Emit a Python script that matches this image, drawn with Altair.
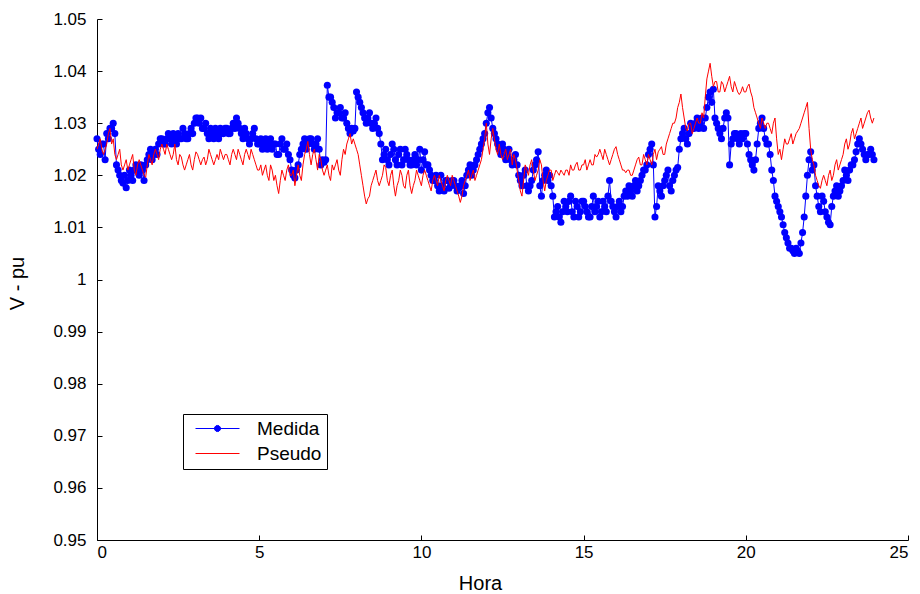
import altair as alt
import pandas as pd

# ---------------- data ----------------
# samples every 0.1 h (on the tenth) and in between (at +0.05 h)
HORA = [round(i * 0.1, 2) for i in range(240)]
HORA_MID = [round(i * 0.1 + 0.05, 2) for i in range(240)]

MEDIDA = [
    1.027, 1.024, 1.026, 1.028, 1.029, 1.030, 1.022, 1.020, 1.0185, 1.0176,
    1.021, 1.019, 1.022, 1.020, 1.021, 1.022, 1.024, 1.023, 1.025, 1.026,
    1.027, 1.026, 1.028, 1.026, 1.027, 1.028, 1.027, 1.028, 1.027, 1.029,
    1.030, 1.031, 1.031, 1.029, 1.028, 1.029, 1.027, 1.028, 1.029, 1.028,
    1.029, 1.028, 1.030, 1.031, 1.029, 1.027, 1.028, 1.026, 1.028, 1.027,
    1.026, 1.025, 1.027, 1.026, 1.025, 1.026, 1.024, 1.027, 1.025, 1.024,
    1.021, 1.0195, 1.022, 1.025, 1.027, 1.026, 1.027, 1.025, 1.027, 1.022,
    1.0225, 1.0373, 1.035, 1.033, 1.032, 1.033, 1.031, 1.030, 1.028, 1.0285,
    1.036, 1.034, 1.032, 1.030, 1.032, 1.029, 1.031, 1.028, 1.023, 1.025,
    1.022, 1.026, 1.023, 1.024, 1.022, 1.025, 1.023, 1.022, 1.024, 1.023,
    1.021, 1.0245, 1.022, 1.020, 1.019, 1.018, 1.020, 1.017, 1.019, 1.018,
    1.019, 1.017, 1.018, 1.0165, 1.020, 1.022, 1.021, 1.023, 1.025, 1.027,
    1.030, 1.033, 1.029, 1.027, 1.025, 1.026, 1.023, 1.025, 1.022, 1.024,
    1.020, 1.018, 1.021, 1.017, 1.019, 1.022, 1.0245, 1.016, 1.020, 1.019,
    1.018, 1.012, 1.014, 1.011, 1.015, 1.013, 1.016, 1.012, 1.014, 1.013,
    1.015, 1.013, 1.012, 1.016, 1.014, 1.012, 1.015, 1.013, 1.019, 1.014,
    1.012, 1.015, 1.014, 1.017, 1.018, 1.016, 1.019, 1.018, 1.020, 1.021,
    1.024, 1.026, 1.012, 1.018, 1.016, 1.019, 1.021, 1.017, 1.020, 1.0215,
    1.027, 1.029, 1.026, 1.030, 1.029, 1.031, 1.030, 1.029, 1.033, 1.036,
    1.0365, 1.030, 1.028, 1.029, 1.032, 1.022, 1.027, 1.028, 1.026, 1.027,
    1.028, 1.024, 1.022, 1.023, 1.029, 1.031, 1.027, 1.026, 1.021, 1.016,
    1.014, 1.012, 1.009, 1.007, 1.006, 1.005, 1.0055, 1.007, 1.012, 1.020,
    1.0245, 1.022, 1.016, 1.013, 1.015, 1.012, 1.0105, 1.016, 1.018, 1.017,
    1.019, 1.020, 1.021, 1.022, 1.0245, 1.027, 1.025, 1.023, 1.024, 1.024,
]

MEDIDA_MID = [
    1.025, 1.026, 1.023, 1.027, 1.029, 1.028, 1.021, 1.019, 1.020, 1.019,
    1.020, 1.021, 1.021, 1.022, 1.019, 1.023, 1.025, 1.024, 1.024, 1.027,
    1.026, 1.027, 1.027, 1.028, 1.026, 1.027, 1.029, 1.027, 1.028, 1.028,
    1.031, 1.030, 1.029, 1.030, 1.027, 1.028, 1.029, 1.027, 1.028, 1.029,
    1.028, 1.029, 1.029, 1.030, 1.028, 1.029, 1.027, 1.027, 1.029, 1.026,
    1.027, 1.026, 1.025, 1.027, 1.026, 1.024, 1.026, 1.025, 1.026, 1.023,
    1.020, 1.021, 1.024, 1.026, 1.025, 1.027, 1.026, 1.026, 1.025, 1.023,
    1.023, 1.035, 1.034, 1.031, 1.032, 1.031, 1.032, 1.029, 1.029, 1.029,
    1.035, 1.033, 1.031, 1.031, 1.030, 1.030, 1.029, 1.026, 1.024, 1.023,
    1.024, 1.025, 1.022, 1.025, 1.023, 1.024, 1.022, 1.023, 1.022, 1.025,
    1.023, 1.022, 1.021, 1.019, 1.020, 1.017, 1.018, 1.019, 1.0175, 1.019,
    1.018, 1.0175, 1.019, 1.018, 1.021, 1.020, 1.022, 1.024, 1.026, 1.028,
    1.032, 1.031, 1.028, 1.026, 1.024, 1.025, 1.024, 1.023, 1.023, 1.022,
    1.019, 1.020, 1.018, 1.018, 1.021, 1.023, 1.018, 1.019, 1.021, 1.020,
    1.016, 1.013, 1.012, 1.013, 1.014, 1.015, 1.013, 1.015, 1.012, 1.015,
    1.014, 1.012, 1.014, 1.013, 1.015, 1.013, 1.014, 1.016, 1.015, 1.013,
    1.014, 1.013, 1.016, 1.016, 1.017, 1.018, 1.017, 1.019, 1.021, 1.022,
    1.025, 1.022, 1.014, 1.017, 1.018, 1.020, 1.018, 1.019, 1.021, 1.025,
    1.028, 1.027, 1.028, 1.029, 1.030, 1.029, 1.031, 1.031, 1.035, 1.034,
    1.031, 1.029, 1.027, 1.031, 1.031, 1.026, 1.028, 1.027, 1.028, 1.028,
    1.026, 1.023, 1.021, 1.026, 1.030, 1.029, 1.026, 1.024, 1.019, 1.015,
    1.013, 1.0105, 1.008, 1.006, 1.0055, 1.006, 1.005, 1.009, 1.016, 1.023,
    1.021, 1.018, 1.014, 1.016, 1.013, 1.011, 1.014, 1.017, 1.016, 1.018,
    1.021, 1.019, 1.022, 1.023, 1.026, 1.026, 1.024, 1.024, 1.025, 1.023,
]

PSEUDO = [
    1.025, 1.027, 1.024, 1.026, 1.029, 1.027, 1.023, 1.025, 1.021, 1.023,
    1.022, 1.024, 1.020, 1.023, 1.021, 1.0196, 1.024, 1.022, 1.025, 1.023,
    1.026, 1.024, 1.025, 1.023, 1.026, 1.022, 1.0235, 1.021, 1.023, 1.022,
    1.023, 1.024, 1.022, 1.0235, 1.023, 1.024, 1.022, 1.024, 1.025, 1.023,
    1.024, 1.022, 1.025, 1.023, 1.024, 1.022, 1.025, 1.023, 1.024, 1.022,
    1.021, 1.020, 1.022, 1.019, 1.021, 1.020, 1.0165, 1.021, 1.019, 1.022,
    1.020, 1.018, 1.022, 1.019, 1.024, 1.0265, 1.022, 1.025, 1.021, 1.023,
    1.020, 1.022, 1.019, 1.021, 1.023, 1.020, 1.025, 1.026, 1.028, 1.027,
    1.025, 1.022, 1.018, 1.0145, 1.016, 1.019, 1.021, 1.018, 1.020, 1.0215,
    1.018, 1.021, 1.016, 1.019, 1.020, 1.0175, 1.021, 1.0165, 1.019, 1.020,
    1.018, 1.021, 1.019, 1.017, 1.020, 1.018, 1.019, 1.017, 1.020, 1.018,
    1.019, 1.017, 1.0148, 1.018, 1.020, 1.019, 1.021, 1.020, 1.022, 1.025,
    1.030, 1.024, 1.029, 1.025, 1.026, 1.023, 1.025, 1.024, 1.022, 1.023,
    1.019, 1.016, 1.022, 1.020, 1.023, 1.019, 1.021, 1.022, 1.017, 1.020,
    1.021, 1.020, 1.0205, 1.021, 1.020, 1.021, 1.022, 1.021, 1.0225, 1.021,
    1.022, 1.021, 1.023, 1.022, 1.0235, 1.025, 1.023, 1.024, 1.022, 1.024,
    1.0255, 1.023, 1.021, 1.0205, 1.021, 1.020, 1.022, 1.0235, 1.022, 1.023,
    1.024, 1.022, 1.025, 1.0245, 1.0255, 1.024, 1.027, 1.029, 1.030, 1.033,
    1.0356, 1.031, 1.0285, 1.030, 1.029, 1.031, 1.030, 1.031, 1.0385, 1.0415,
    1.037, 1.038, 1.036, 1.0375, 1.037, 1.039, 1.036, 1.037, 1.0355, 1.037,
    1.036, 1.0375, 1.035, 1.032, 1.030, 1.031, 1.029, 1.030, 1.028, 1.031,
    1.024, 1.023, 1.027, 1.026, 1.028, 1.027, 1.0285, 1.030, 1.032, 1.034,
    1.025, 1.022, 1.019, 1.0175, 1.020, 1.018, 1.021, 1.020, 1.023, 1.022,
    1.024, 1.027, 1.026, 1.029, 1.028, 1.030, 1.029, 1.031, 1.0325, 1.030,
]

PSEUDO_MID = [
    1.026, 1.025, 1.025, 1.028, 1.026, 1.024, 1.024, 1.022, 1.022, 1.021,
    1.023, 1.021, 1.022, 1.022, 1.020, 1.022, 1.023, 1.024, 1.024, 1.025,
    1.025, 1.026, 1.024, 1.024, 1.023, 1.024, 1.022, 1.022, 1.024, 1.021,
    1.0245, 1.023, 1.023, 1.022, 1.025, 1.023, 1.023, 1.023, 1.024, 1.024,
    1.023, 1.024, 1.024, 1.025, 1.023, 1.024, 1.024, 1.025, 1.023, 1.021,
    1.022, 1.021, 1.020, 1.022, 1.019, 1.018, 1.019, 1.020, 1.021, 1.020,
    1.021, 1.020, 1.020, 1.022, 1.025, 1.024, 1.024, 1.023, 1.024, 1.021,
    1.021, 1.020, 1.022, 1.022, 1.021, 1.023, 1.024, 1.027, 1.026, 1.026,
    1.024, 1.020, 1.016, 1.0155, 1.018, 1.020, 1.019, 1.019, 1.022, 1.019,
    1.020, 1.018, 1.018, 1.021, 1.018, 1.020, 1.018, 1.018, 1.021, 1.019,
    1.020, 1.020, 1.018, 1.019, 1.019, 1.020, 1.018, 1.019, 1.019, 1.020,
    1.018, 1.016, 1.016, 1.019, 1.021, 1.020, 1.019, 1.021, 1.023, 1.027,
    1.026, 1.027, 1.027, 1.024, 1.024, 1.024, 1.023, 1.025, 1.024, 1.021,
    1.017, 1.019, 1.021, 1.022, 1.021, 1.020, 1.023, 1.019, 1.019, 1.021,
    1.019, 1.021, 1.020, 1.0205, 1.021, 1.020, 1.021, 1.022, 1.021, 1.022,
    1.023, 1.022, 1.022, 1.024, 1.024, 1.024, 1.025, 1.023, 1.023, 1.025,
    1.024, 1.022, 1.021, 1.021, 1.020, 1.021, 1.023, 1.022, 1.024, 1.022,
    1.023, 1.024, 1.023, 1.025, 1.024, 1.026, 1.028, 1.030, 1.031, 1.034,
    1.033, 1.029, 1.030, 1.028, 1.030, 1.030, 1.032, 1.035, 1.040, 1.039,
    1.038, 1.036, 1.038, 1.036, 1.038, 1.037, 1.038, 1.036, 1.036, 1.036,
    1.037, 1.036, 1.033, 1.031, 1.029, 1.030, 1.030, 1.029, 1.030, 1.027,
    1.025, 1.025, 1.026, 1.027, 1.026, 1.028, 1.029, 1.031, 1.033, 1.029,
    1.023, 1.020, 1.018, 1.019, 1.019, 1.020, 1.019, 1.022, 1.021, 1.023,
    1.026, 1.025, 1.028, 1.027, 1.029, 1.031, 1.030, 1.032, 1.031, 1.031,
]

SERIES = ["Medida", "Pseudo"]
X_TICKS = [0, 5, 10, 15, 20, 25]
Y_TICKS = [0.95, 0.96, 0.97, 0.98, 0.99, 1.0, 1.01, 1.02, 1.03, 1.04, 1.05]

# ---------------- style ----------------
BLUE = "#0000ff"
RED = "#ff0000"
FONT = "Liberation Sans"
W, H = 811, 521

df = pd.concat([
    pd.DataFrame({"hora": HORA, "medida": MEDIDA, "pseudo": PSEUDO}),
    pd.DataFrame({"hora": HORA_MID, "medida": MEDIDA_MID, "pseudo": PSEUDO_MID}),
]).sort_values("hora").reset_index(drop=True)
legend_df = pd.DataFrame({"serie": SERIES})

xscale = alt.Scale(domain=[0, 25], nice=False, zero=False)
yscale = alt.Scale(domain=[0.95, 1.05], nice=False, zero=False)

x_axis_main = alt.Axis(
    orient="bottom", values=X_TICKS, format="d", tickSize=0, labelPadding=4,
    grid=False, domainColor="black", domainWidth=1,
    labelFont=FONT, labelFontSize=17, labelColor="black",
    title="Hora", titleFont=FONT, titleFontSize=20, titleFontWeight="normal",
    titleColor="black", titleX=383, titleY=49, titleAlign="center",
    titleBaseline="alphabetic", titleAnchor="start",
)
y_axis_main = alt.Axis(
    orient="left", values=Y_TICKS, format="~g", tickSize=0, labelPadding=11,
    grid=False, domainColor="black", domainWidth=1,
    labelFont=FONT, labelFontSize=17, labelColor="black",
    title="V - pu", titleFont=FONT, titleFontSize=20, titleFontWeight="normal",
    titleColor="black", titleX=-74, titleY=264, titleAngle=270,
    titleAlign="center", titleBaseline="alphabetic", titleAnchor="start",
)
# inward ticks: extra tick-only axes moved onto the plot edges
x_axis_ticks = alt.Axis(
    orient="top", offset=-H, values=X_TICKS, labels=False, domain=False,
    tickSize=5, tickColor="black", grid=False, title=None,
)
y_axis_ticks = alt.Axis(
    orient="right", offset=-W, values=Y_TICKS, labels=False, domain=False,
    tickSize=5, tickColor="black", grid=False, title=None,
)

blue_line = alt.Chart(df).mark_line(color=BLUE, strokeWidth=1).encode(
    x=alt.X("hora:Q", scale=xscale, axis=x_axis_main),
    y=alt.Y("medida:Q", scale=yscale, axis=y_axis_main),
)
blue_pts = alt.Chart(df).mark_circle(color=BLUE, size=50, opacity=1).encode(
    x=alt.X("hora:Q", scale=xscale, axis=None),
    y=alt.Y("medida:Q", scale=yscale, axis=None),
)
red_line = alt.Chart(df).mark_line(color=RED, strokeWidth=1).encode(
    x=alt.X("hora:Q", scale=xscale, axis=x_axis_ticks),
    y=alt.Y("pseudo:Q", scale=yscale, axis=y_axis_ticks),
)

# legend symbols: line with dot (Medida), plain line (Pseudo)
DOT = ("M0.38,0L0.33,0.19L0.19,0.33L0,0.38L-0.19,0.33L-0.33,0.19L-0.38,0"
       "L-0.33,-0.19L-0.19,-0.33L0,-0.38L0.19,-0.33L0.33,-0.19Z")
SYM_MEDIDA = "M-2.75,0L2.75,0" + DOT
SYM_PSEUDO = "M-2.75,0L2.75,0"

leg = alt.Legend(
    title=None, orient="none", legendX=86, legendY=395,
    strokeColor="black", fillColor="white", padding=5,
    symbolSize=256, symbolStrokeWidth=1, symbolOpacity=1, symbolOffset=20,
    labelFont=FONT, labelFontSize=19, labelColor="black",
    labelOffset=30, rowPadding=5,
)
legend_layer = alt.Chart(legend_df).mark_point(filled=True, opacity=0).encode(
    fill=alt.Fill("serie:N", scale=alt.Scale(domain=SERIES, range=[BLUE, RED]), legend=leg),
    stroke=alt.Stroke("serie:N", scale=alt.Scale(domain=SERIES, range=[BLUE, RED]), legend=leg),
    shape=alt.Shape("serie:N", scale=alt.Scale(domain=SERIES, range=[SYM_MEDIDA, SYM_PSEUDO]), legend=leg),
)

chart = (
    alt.layer(blue_line, blue_pts, red_line, legend_layer)
    .resolve_axis(x="independent", y="independent")
    .properties(
        width=W, height=H,
        autosize=alt.AutoSizeParams(type="none"),
        padding={"left": 97, "top": 19, "right": 12, "bottom": 54},
        background="white",
    )
    .configure_view(stroke=None)
)

chart.save("out.html", embed_options={"renderer": "svg", "actions": False})
